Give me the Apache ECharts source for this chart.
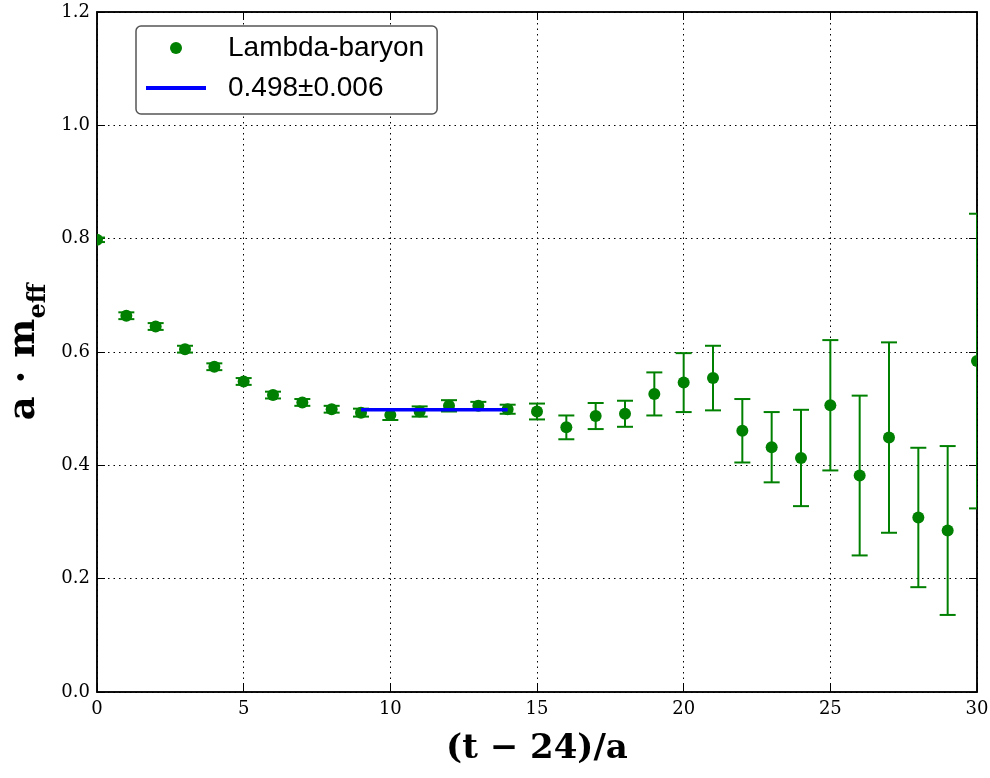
<!DOCTYPE html>
<html>
<head>
<meta charset="utf-8">
<script src="https://cdn.jsdelivr.net/npm/echarts@6/dist/echarts.min.js"></script>
<style>
  html, body { margin: 0; padding: 0; background: #fff; }
  #chart { width: 990px; height: 778px; }
</style>
</head>
<body>
<div id="chart"></div>
<script>
// effective mass data
var times = [0, 1, 2, 3, 4, 5, 6, 7, 8, 9, 10, 11, 12, 13, 14, 15, 16, 17, 18, 19, 20, 21, 22, 23, 24, 25, 26, 27, 28, 29, 30];
var meff = [0.798, 0.664, 0.645, 0.605, 0.574, 0.548, 0.524, 0.511, 0.499, 0.493, 0.489, 0.495, 0.505, 0.505, 0.499, 0.495, 0.467, 0.487, 0.491, 0.526, 0.546, 0.554, 0.461, 0.432, 0.413, 0.506, 0.382, 0.449, 0.308, 0.285, 0.584];
var meffErr = [0.004, 0.006, 0.006, 0.006, 0.006, 0.006, 0.006, 0.006, 0.006, 0.007, 0.009, 0.009, 0.010, 0.007, 0.008, 0.014, 0.021, 0.023, 0.023, 0.038, 0.052, 0.057, 0.056, 0.062, 0.085, 0.115, 0.141, 0.168, 0.123, 0.149, 0.260];

// plateau fit
var fitRange = [9, 14];
var fitValue = 0.498;
var fitLabel = '0.498\u00b10.006';

var green = '#008000';
var serif = 'DejaVu Serif';

var points = times.map(function (t, i) { return [t, meff[i], meffErr[i]]; });
var fitLine = fitRange.map(function (t) { return [t, fitValue]; });

function renderErr(params, api) {
    var x = api.value(0), y = api.value(1), e = api.value(2);
    var p = api.coord([x, y]);
    var hi = api.coord([x, y + e]);
    var lo = api.coord([x, y - e]);
    var w = 8;
    var st = { stroke: green, lineWidth: 2 };
    return {
        type: 'group',
        children: [
            { type: 'line', shape: { x1: p[0], y1: hi[1], x2: p[0], y2: lo[1] }, style: st },
            { type: 'line', shape: { x1: p[0] - w, y1: hi[1], x2: p[0] + w, y2: hi[1] }, style: st },
            { type: 'line', shape: { x1: p[0] - w, y1: lo[1], x2: p[0] + w, y2: lo[1] }, style: st },
            { type: 'circle', shape: { cx: p[0], cy: p[1], r: 6 }, style: { fill: green } }
        ]
    };
}

var gridLine = { show: true, lineStyle: { color: '#000', type: [1.5, 4], width: 1 } };
var axLine = { show: true, onZero: false, lineStyle: { color: '#000', width: 1.5 } };
var tickIn = { show: true, inside: true, length: 8, lineStyle: { color: '#000', width: 1 } };

var option = {
    animation: false,
    backgroundColor: '#fff',
    grid: {
        left: 97, right: 13, top: 12, bottom: 86,
        outerBoundsMode: 'none', containLabel: false,
        show: true, borderColor: '#000', borderWidth: 1.5
    },
    legend: {
        orient: 'vertical',
        left: 136, top: 26,
        padding: [7, 13, 11, 10],
        itemWidth: 60, itemHeight: 12, itemGap: 10,
        backgroundColor: '#fff',
        borderColor: '#555', borderWidth: 1.5, borderRadius: 5,
        selectedMode: false,
        textStyle: { fontFamily: 'Liberation Sans', fontSize: 28, color: '#000', lineHeight: 30, padding: [0, 0, 0, 17] },
        data: [
            { name: 'Lambda-baryon', icon: 'circle' },
            { name: fitLabel, icon: 'path://M0,0 H60 V4 H0 Z' }
        ]
    },
    xAxis: [{
        type: 'value', min: 0, max: 30, interval: 5,
        axisLine: axLine, axisTick: tickIn, splitLine: gridLine,
        axisLabel: { fontFamily: serif, fontSize: 18, color: '#000', margin: 8 },
        name: '(t \u2212 24)/a', nameLocation: 'middle', nameGap: 40,
        nameTextStyle: { fontFamily: serif, fontWeight: 'bold', fontSize: 34, color: '#000' }
    }, {
        type: 'value', position: 'top', min: 0, max: 30, interval: 5,
        axisLine: axLine, axisTick: tickIn, axisLabel: { show: false }, splitLine: { show: false }
    }],
    yAxis: [{
        type: 'value', min: 0, max: 1.2, interval: 0.2,
        axisLine: axLine, axisTick: tickIn, splitLine: gridLine,
        axisLabel: { fontFamily: serif, fontSize: 18, color: '#000', margin: 7, formatter: function (v) { return v.toFixed(1); } },
        name: '{m|a \u00b7 m}{s|eff}', nameLocation: 'middle', nameGap: 50, nameRotate: 90,
        nameTextStyle: {
            color: '#000',
            rich: {
                m: { fontFamily: serif, fontWeight: 'bold', fontSize: 37, color: '#000', verticalAlign: 'bottom', lineHeight: 42 },
                s: { fontFamily: serif, fontWeight: 'bold', fontSize: 24, color: '#000', verticalAlign: 'bottom', lineHeight: 42, padding: [0, 0, -8, 0] }
            }
        }
    }, {
        type: 'value', position: 'right', min: 0, max: 1.2, interval: 0.2,
        axisLine: axLine, axisTick: tickIn, axisLabel: { show: false }, splitLine: { show: false }
    }],
    series: [{
        name: 'Lambda-baryon',
        type: 'custom',
        clip: true,
        itemStyle: { color: green },
        renderItem: renderErr,
        encode: { x: 0, y: [1, 2] },
        data: points
    }, {
        name: fitLabel,
        type: 'line',
        showSymbol: false,
        symbol: 'none',
        color: '#0000ff',
        lineStyle: { color: '#0000ff', width: 3.5 },
        data: fitLine
    }]
};

var myChart = echarts.init(document.getElementById('chart'));
myChart.setOption(option);
</script>
</body>
</html>
